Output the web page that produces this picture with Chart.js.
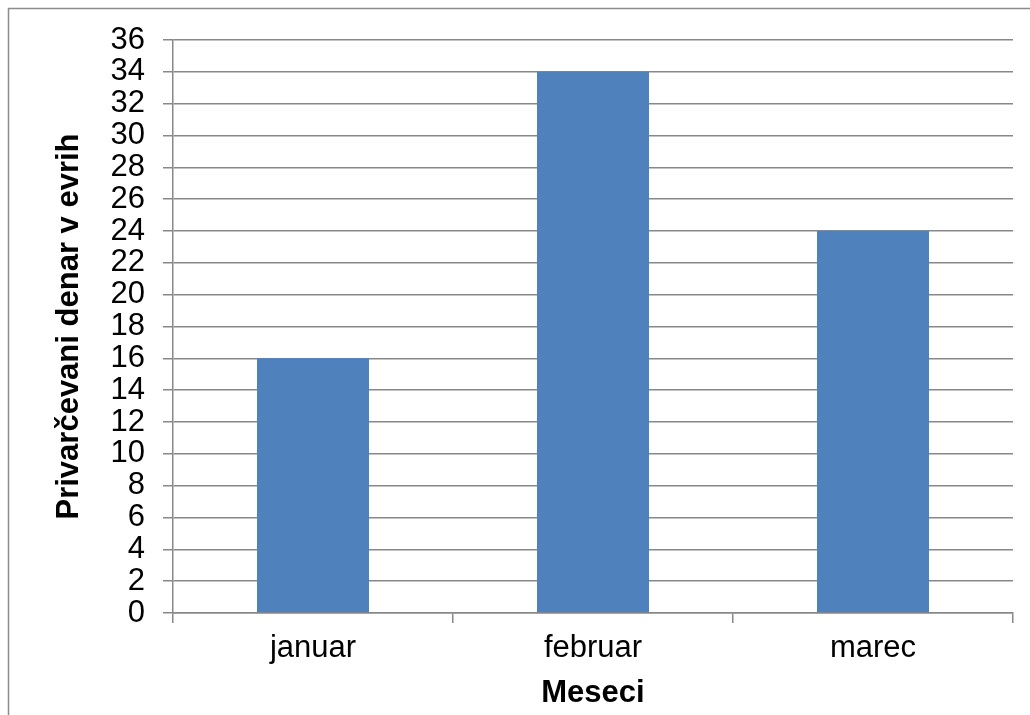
<!DOCTYPE html>
<html>
<head>
<meta charset="utf-8">
<script src="https://cdn.jsdelivr.net/npm/chart.js@4"></script>
<style>
  html, body { margin: 0; padding: 0; background: #fff; }
  #wrap { width: 1030px; height: 715px; position: relative; }
</style>
</head>
<body>
<div id="wrap"><canvas id="c" width="1030" height="715"></canvas></div>
<script>
// Privarčevani denar po mesecih
const months = ['januar', 'februar', 'marec'];
const savings = [16, 34, 24];
const yMin = 0;
const yMax = 36;
const yStep = 2;
const yTitle = 'Privarčevani denar v evrih';
const xTitle = 'Meseci';

const FONT = "'Liberation Sans', Arial, sans-serif";
const GRID = '#888888';

// grey frame around the whole chart
const frame = {
  id: 'frame',
  beforeDraw(chart) {
    const ctx = chart.ctx;
    ctx.save();
    ctx.fillStyle = '#ffffff';
    ctx.fillRect(0, 0, chart.width, chart.height);
    ctx.strokeStyle = '#8c8c8c';
    ctx.lineWidth = 1.5;
    ctx.strokeRect(8.5, 8.5, chart.width + 20, chart.height + 20);
    ctx.restore();
  }
};

new Chart(document.getElementById('c'), {
  type: 'bar',
  data: {
    labels: months,
    datasets: [{
      data: savings,
      backgroundColor: '#4F81BD',
      borderWidth: 0,
      barPercentage: 0.4,
      categoryPercentage: 1
    }]
  },
  options: {
    responsive: false,
    animation: false,
    devicePixelRatio: 1,
    layout: { padding: { top: 40, right: 17, bottom: 0, left: 0 } },
    plugins: { legend: { display: false }, tooltip: { enabled: false } },
    scales: {
      x: {
        grid: {
          display: true,
          drawOnChartArea: false,
          drawTicks: true,
          tickLength: 10,
          color: GRID,
          lineWidth: 1.5
        },
        border: { display: true, color: GRID, width: 1.5 },
        ticks: {
          color: '#000',
          padding: 7,
          font: { family: FONT, size: 31 }
        },
        title: {
          display: true,
          text: xTitle,
          color: '#000',
          font: { family: FONT, size: 31, weight: 'bold' },
          padding: { top: 0, bottom: 3 }
        },
        afterFit(scale) { scale.height = 102; }
      },
      y: {
        min: yMin,
        max: yMax,
        ticks: {
          stepSize: yStep,
          autoSkip: false,
          color: '#000',
          padding: 18,
          font: { family: FONT, size: 31 }
        },
        grid: {
          color: GRID,
          lineWidth: 1.5,
          tickLength: 10
        },
        border: { display: true, color: GRID, width: 1.5 },
        title: {
          display: true,
          text: yTitle,
          color: '#000',
          font: { family: FONT, size: 31, weight: 'bold' },
          padding: { top: 51, bottom: 0 }
        },
        afterFit(scale) { scale.width = 173; }
      }
    }
  },
  plugins: [frame]
});
</script>
</body>
</html>
